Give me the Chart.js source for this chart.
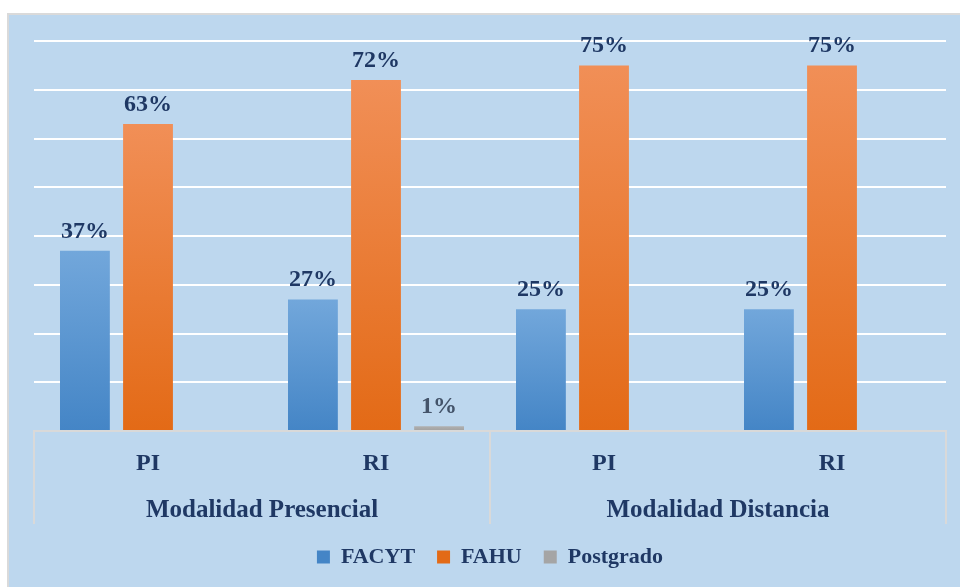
<!DOCTYPE html>
<html lang="es">
<head>
<meta charset="utf-8">
<title>FACYT / FAHU / Postgrado</title>
<script src="https://cdn.jsdelivr.net/npm/chart.js@4.4.1/dist/chart.umd.min.js"></script>
<style>
    html, body { margin: 0; padding: 0; background: #ffffff; overflow: hidden; }
    #grafico { display: block; }
</style>
</head>
<body>
<canvas id="grafico" width="960" height="587"></canvas>
<script>
// Données
const sousCategories = ['PI', 'RI', 'PI', 'RI'];
const modalites = ['Modalidad Presencial', 'Modalidad Distancia'];
const valeursFACYT = [37, 27, 25, 25];
const valeursFAHU = [63, 72, 75, 75];
const valeursPostgrado = [null, 1, null, null];

const bleuNuit = '#1F3864';

// Dégradé vertical propre à chaque barre
function degradado(haut, bas, uni) {
    return function (ctx) {
        if (ctx.type !== 'data') return uni;
        const chart = ctx.chart;
        const y = chart.scales.y;
        if (!chart.chartArea || !y || ctx.raw == null) return uni;
        const top = y.getPixelForValue(ctx.raw);
        const bottom = y.getPixelForValue(0);
        if (!isFinite(top) || !isFinite(bottom) || bottom - top < 2) return uni;
        const g = chart.ctx.createLinearGradient(0, top, 0, bottom);
        g.addColorStop(0, haut);
        g.addColorStop(1, bas);
        return g;
    };
}

// Fond de la zone graphique
const fondPlugin = {
    id: 'fond',
    beforeDraw(chart) {
        const c = chart.ctx;
        c.save();
        c.fillStyle = '#ffffff';
        c.fillRect(0, 0, chart.width, chart.height);
        c.fillStyle = '#DADADA';
        c.fillRect(7, 13, chart.width - 7, chart.height - 13);
        c.fillStyle = '#BDD7EE';
        c.fillRect(9, 15, chart.width - 9, chart.height - 15);
        c.restore();
    }
};

// Séparateurs verticaux de l'axe à deux niveaux
const separateursPlugin = {
    id: 'separateurs',
    afterDraw(chart) {
        const x2 = chart.scales.x2;
        const area = chart.chartArea;
        const c = chart.ctx;
        const demi = (x2.getPixelForValue(1) - x2.getPixelForValue(0)) / 2;
        const positions = [x2.getPixelForValue(0) - demi, x2.getPixelForValue(0) + demi, x2.getPixelForValue(1) + demi];
        c.save();
        c.strokeStyle = '#D9D9D9';
        c.lineWidth = 2;
        positions.forEach(px => {
            c.beginPath();
            c.moveTo(px, area.bottom);
            c.lineTo(px, 524);
            c.stroke();
        });
        c.restore();
    }
};

// Étiquettes de valeur au-dessus des barres
const etiquettesPlugin = {
    id: 'etiquettes',
    afterDatasetsDraw(chart) {
        const c = chart.ctx;
        c.save();
        c.textAlign = 'center';
        c.textBaseline = 'alphabetic';
        chart.data.datasets.forEach((ds, i) => {
            const meta = chart.getDatasetMeta(i);
            meta.data.forEach((barre, j) => {
                const v = ds.data[j];
                if (v == null) return;
                c.font = 'bold 24px "Liberation Serif"';
                c.fillStyle = ds.label === 'Postgrado' ? '#44546A' : bleuNuit;
                c.fillText(v + '%', barre.x, barre.y - 13);
            });
        });
        c.restore();
    }
};

const ctx = document.getElementById('grafico').getContext('2d');
new Chart(ctx, {
    type: 'bar',
    data: {
        labels: sousCategories,
        datasets: [
            {
                label: 'FACYT',
                data: valeursFACYT,
                backgroundColor: degradado('#72A7DB', '#4485C6', '#4F8FCF')
            },
            {
                label: 'FAHU',
                data: valeursFAHU,
                backgroundColor: degradado('#F18F57', '#E36A16', '#ED7D31')
            },
            {
                label: 'Postgrado',
                data: valeursPostgrado,
                backgroundColor: degradado('#B0B0B0', '#A0A0A0', '#A5A5A5')
            }
        ]
    },
    options: {
        responsive: false,
        animation: false,
        layout: {
            padding: { left: 34, right: 14, top: 41, bottom: 9 }
        },
        datasets: {
            bar: {
                categoryPercentage: 0.83,
                barPercentage: 0.79
            }
        },
        plugins: {
            tooltip: { enabled: false },
            legend: {
                position: 'bottom',
                labels: {
                    color: bleuNuit,
                    font: { family: '"Liberation Serif"', size: 22, weight: 'bold' },
                    boxWidth: 13,
                    boxHeight: 13,
                    padding: 22
                }
            }
        },
        scales: {
            y: {
                min: 0,
                max: 80,
                ticks: { display: false, stepSize: 10 },
                border: { display: false },
                grid: { color: '#ffffff', lineWidth: 2, drawTicks: false }
            },
            x: {
                grid: { display: false, drawTicks: false },
                border: { color: '#D9D9D9', width: 2 },
                ticks: {
                    color: bleuNuit,
                    padding: 21,
                    font: { family: '"Liberation Serif"', size: 24, weight: 'bold', lineHeight: 1 }
                }
            },
            x2: {
                type: 'category',
                labels: modalites,
                position: 'bottom',
                offset: true,
                grid: { display: false, drawTicks: false },
                border: { display: false },
                ticks: {
                    color: bleuNuit,
                    padding: 1,
                    font: { family: '"Liberation Serif"', size: 25, weight: 'bold', lineHeight: 1 }
                }
            }
        }
    },
    plugins: [fondPlugin, separateursPlugin, etiquettesPlugin]
});
</script>
</body>
</html>
